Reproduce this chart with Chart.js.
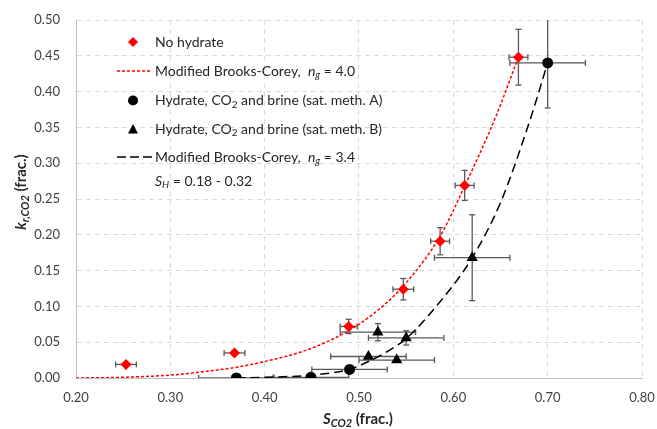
<!DOCTYPE html>
<html>
<head>
<meta charset="utf-8">
<script src="https://cdn.jsdelivr.net/npm/chart.js@4/dist/chart.umd.min.js"></script>
<style>
  body { margin: 0; background: #fff; }
  #chart-wrap { width: 657px; height: 429px; }
</style>
</head>
<body>
<div id="chart-wrap"><canvas id="kr-chart" width="657" height="429"></canvas></div>
<script>
// measured points, no hydrate
const noHydS = [0.253, 0.368, 0.489, 0.547, 0.586, 0.612, 0.669];
const noHydK = [0.019, 0.035, 0.072, 0.124, 0.191, 0.269, 0.448];
const noHydSErr = [0.011, 0.011, 0.009, 0.011, 0.010, 0.010, 0.010];
const noHydKErr = [0, 0, 0.010, 0.015, 0.019, 0.021, 0.039];

// hydrate, sat. method A
const hydAS = [0.370, 0.449, 0.490, 0.700];
const hydAK = [0.000, 0.001, 0.012, 0.440];
const hydASErr = [0.040, 0.040, 0.040, 0.040];
const hydAKErr = [0, 0, 0, 0.063];

// hydrate, sat. method B
const hydBS = [0.510, 0.520, 0.550, 0.540, 0.620];
const hydBK = [0.030, 0.064, 0.056, 0.025, 0.168];
const hydBSErr = [0.040, 0.040, 0.040, 0.040, 0.040];
const hydBKErr = [0, 0.012, 0.010, 0, 0.060];

// model curves
const bcRedS = [0.20, 0.25, 0.30, 0.33, 0.37, 0.40, 0.44, 0.47, 0.50, 0.53, 0.55, 0.586, 0.612, 0.645, 0.669];
const bcRedK = [0.000, 0.001, 0.004, 0.008, 0.015, 0.023, 0.037, 0.053, 0.075, 0.106, 0.133, 0.198, 0.268, 0.365, 0.448];
const bcBlackS = [0.37, 0.40, 0.44, 0.47, 0.49, 0.51, 0.53, 0.55, 0.585, 0.62, 0.65, 0.68, 0.70];
const bcBlackK = [0.000, 0.001, 0.003, 0.007, 0.012, 0.023, 0.037, 0.055, 0.105, 0.168, 0.245, 0.355, 0.440];

const xTicks = [0.2, 0.3, 0.4, 0.5, 0.6, 0.7, 0.8];
const yTicks = [0, 0.05, 0.1, 0.15, 0.2, 0.25, 0.3, 0.35, 0.4, 0.45, 0.5];

const toPoints = (xs, ys) => xs.map((v, i) => ({ x: v, y: ys[i] }));

const FONT = 'Lato';

// draw text made of parts: [text, style] style letters: b bold, i italic, s subscript
function richFont(style, size) {
  const sz = style.includes('s') ? Math.round(size * 0.72) : size;
  return (style.includes('i') ? 'italic ' : '') + (style.includes('b') ? 'bold ' : '') + sz + 'px ' + FONT;
}
function richWidth(ctx, parts, size) {
  let w = 0;
  parts.forEach(p => { ctx.font = richFont(p[1], size); w += ctx.measureText(p[0]).width; });
  return w;
}
function drawRich(ctx, parts, x, y, size, align) {
  let cx = align === 'center' ? x - richWidth(ctx, parts, size) / 2 : x;
  ctx.textBaseline = 'middle';
  ctx.textAlign = 'left';
  parts.forEach(p => {
    ctx.font = richFont(p[1], size);
    const dy = p[1].includes('s') ? size * 0.3 : 0;
    ctx.fillText(p[0], cx, y + dy);
    cx += ctx.measureText(p[0]).width;
  });
}

const whiteBg = {
  id: 'whiteBg',
  beforeDraw(chart) {
    const ctx = chart.ctx;
    ctx.save();
    ctx.fillStyle = '#fff';
    ctx.fillRect(0, 0, chart.width, chart.height);
    ctx.restore();
  }
};

const errorBars = {
  id: 'errorBars',
  beforeDatasetsDraw(chart) {
    const { ctx, chartArea, scales: { x, y } } = chart;
    ctx.save();
    ctx.beginPath();
    ctx.rect(chartArea.left, chartArea.top, chartArea.width, chartArea.height);
    ctx.clip();
    ctx.strokeStyle = '#595959';
    ctx.lineWidth = 1.3;
    const seg = (a, b, c, d) => { ctx.beginPath(); ctx.moveTo(a, b); ctx.lineTo(c, d); ctx.stroke(); };
    chart.data.datasets.forEach(ds => {
      if (!ds.errX) return;
      ds.data.forEach((p, i) => {
        const px = x.getPixelForValue(p.x);
        const py = y.getPixelForValue(p.y);
        const ex = ds.errX[i], ey = ds.errY[i];
        if (ex) {
          const l = x.getPixelForValue(p.x - ex), r = x.getPixelForValue(p.x + ex);
          seg(l, py, r, py);
          seg(l, py - 3, l, py + 3);
          seg(r, py - 3, r, py + 3);
        }
        if (ey) {
          const t = y.getPixelForValue(p.y + ey), b = y.getPixelForValue(p.y - ey);
          seg(px, t, px, b);
          seg(px - 3, t, px + 3, t);
          seg(px - 3, b, px + 3, b);
        }
      });
    });
    ctx.restore();
  }
};

const axisTitlesAndLegend = {
  id: 'axisTitlesAndLegend',
  afterDraw(chart) {
    const ctx = chart.ctx;
    ctx.save();
    ctx.fillStyle = '#262626';

    // x title
    drawRich(ctx, [['S', 'bi'], ['CO2', 'bis'], [' (frac.)', 'b']], 358, 419, 15, 'center');

    // y title
    ctx.save();
    ctx.translate(21, 192);
    ctx.rotate(-Math.PI / 2);
    drawRich(ctx, [['k', 'bi'], ['r,CO2', 'bis'], [' (frac.)', 'b']], 0, 0, 15, 'center');
    ctx.restore();

    // legend
    const mx = 133, tx = 155;
    const rows = [42, 71, 100.5, 129, 157, 181];
    ctx.fillStyle = '#ff0000';
    ctx.beginPath();
    ctx.moveTo(mx, rows[0] - 5); ctx.lineTo(mx + 5, rows[0]); ctx.lineTo(mx, rows[0] + 5); ctx.lineTo(mx - 5, rows[0]);
    ctx.closePath(); ctx.fill();

    ctx.strokeStyle = '#ff0000';
    ctx.lineWidth = 1.3;
    ctx.setLineDash([3, 2]);
    ctx.beginPath(); ctx.moveTo(117, rows[1]); ctx.lineTo(152, rows[1]); ctx.stroke();

    ctx.fillStyle = '#000';
    ctx.beginPath(); ctx.arc(mx, rows[2], 5, 0, Math.PI * 2); ctx.fill();

    ctx.beginPath();
    ctx.moveTo(mx, rows[3] - 5); ctx.lineTo(mx + 5, rows[3] + 4.5); ctx.lineTo(mx - 5, rows[3] + 4.5);
    ctx.closePath(); ctx.fill();

    ctx.strokeStyle = '#000';
    ctx.lineWidth = 1.5;
    ctx.setLineDash([9, 4]);
    ctx.beginPath(); ctx.moveTo(117, rows[4]); ctx.lineTo(152, rows[4]); ctx.stroke();
    ctx.setLineDash([]);

    ctx.fillStyle = '#262626';
    drawRich(ctx, [['No hydrate', '']], tx, rows[0], 14);
    drawRich(ctx, [['Modified Brooks-Corey,  ', ''], ['n', 'i'], ['g', 'is'], [' = 4.0', '']], tx, rows[1], 14);
    drawRich(ctx, [['Hydrate, CO', ''], ['2', 's'], [' and brine (sat. meth. A)', '']], tx, rows[2], 14);
    drawRich(ctx, [['Hydrate, CO', ''], ['2', 's'], [' and brine (sat. meth. B)', '']], tx, rows[3], 14);
    drawRich(ctx, [['Modified Brooks-Corey,  ', ''], ['n', 'i'], ['g', 'is'], [' = 3.4', '']], tx, rows[4], 14);
    drawRich(ctx, [['S', 'i'], ['H', 'is'], [' = 0.18 - 0.32', '']], tx, rows[5], 14);
    ctx.restore();
  }
};

const ctx = document.getElementById('kr-chart').getContext('2d');

new Chart(ctx, {
  type: 'scatter',
  data: {
    datasets: [
      {
        label: 'No hydrate',
        data: toPoints(noHydS, noHydK),
        errX: noHydSErr,
        errY: noHydKErr,
        pointStyle: 'rectRot',
        pointRadius: 5.5,
        backgroundColor: '#ff0000',
        borderColor: '#ff0000',
        borderWidth: 0,
        order: 1,
      },
      {
        label: 'Hydrate, CO2 and brine (sat. meth. A)',
        data: toPoints(hydAS, hydAK),
        errX: hydASErr,
        errY: hydAKErr,
        pointStyle: 'circle',
        pointRadius: 5.5,
        backgroundColor: '#000',
        borderColor: '#000',
        borderWidth: 0,
        order: 1,
      },
      {
        label: 'Hydrate, CO2 and brine (sat. meth. B)',
        data: toPoints(hydBS, hydBK),
        errX: hydBSErr,
        errY: hydBKErr,
        pointStyle: 'triangle',
        pointRadius: 6.5,
        backgroundColor: '#000',
        borderColor: '#000',
        borderWidth: 0,
        order: 1,
      },
      {
        label: 'Modified Brooks-Corey, ng = 4.0',
        data: toPoints(bcRedS, bcRedK),
        showLine: true,
        pointRadius: 0,
        borderColor: '#ff0000',
        borderWidth: 1.5,
        borderDash: [3, 2],
        cubicInterpolationMode: 'monotone',
        order: 2,
      },
      {
        label: 'Modified Brooks-Corey, ng = 3.4',
        data: toPoints(bcBlackS, bcBlackK),
        showLine: true,
        pointRadius: 0,
        borderColor: '#000',
        borderWidth: 1.5,
        borderDash: [9, 5],
        cubicInterpolationMode: 'monotone',
        order: 2,
      },
    ],
  },
  options: {
    responsive: false,
    animation: false,
    devicePixelRatio: 1,
    layout: { padding: { top: 20, right: 15, left: 0, bottom: 0 } },
    plugins: {
      legend: { display: false },
      tooltip: { enabled: false },
    },
    scales: {
      x: {
        type: 'linear',
        min: 0.2,
        max: 0.8,
        afterBuildTicks: s => { s.ticks = xTicks.map(v => ({ value: v })); },
        // fixed plot box: drop the label overhang padding chart.js adds
        afterFit: s => { s.height = 51; s.paddingLeft = 0; s.paddingRight = 0; },
        ticks: {
          callback: v => Number(v).toFixed(2),
          color: '#404040',
          font: { family: FONT, size: 13 },
          padding: 12,
          maxRotation: 0,
        },
        grid: { color: '#d9d9d9', lineWidth: 1, drawTicks: false },
        border: { color: '#bfbfbf', width: 1, dash: [5, 4] },
      },
      y: {
        type: 'linear',
        min: 0,
        max: 0.5,
        afterBuildTicks: s => { s.ticks = yTicks.map(v => ({ value: v })); },
        afterFit: s => { s.width = 76; s.paddingTop = 0; s.paddingBottom = 0; },
        ticks: {
          callback: v => Number(v).toFixed(2),
          color: '#404040',
          font: { family: FONT, size: 13 },
          padding: 16,
        },
        grid: { color: '#d9d9d9', lineWidth: 1, drawTicks: false },
        border: { color: '#bfbfbf', width: 1, dash: [5, 4] },
      },
    },
  },
  plugins: [whiteBg, errorBars, axisTitlesAndLegend],
});
</script>
</body>
</html>
